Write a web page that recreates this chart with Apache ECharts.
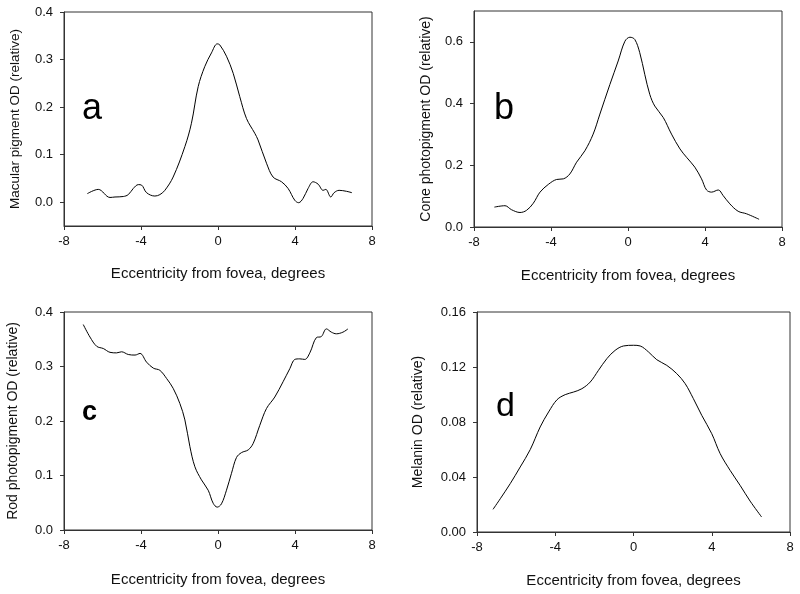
<!DOCTYPE html>
<html>
<head>
<meta charset="utf-8">
<script src="https://cdn.jsdelivr.net/npm/echarts@6/dist/echarts.min.js"></script>
<style>
html,body{margin:0;padding:0;background:#fff;}
#chart{width:800px;height:594px;}
</style>
</head>
<body>
<div id="chart"></div>
<script>
// Panel a: macular pigment OD
const ecc_a = [-6.79,-6.22,-5.61,-5.35,-4.92,-4.66,-4.4,-4.14,-3.97,-3.71,-3.28,-3.02,-2.76,-2.33,-1.72,-1.38,-1.03,-0.69,-0.34,-0.04,0.09,0.44,0.79,1.13,1.48,1.91,2.08,2.52,2.86,3.3,3.64,3.99,4.19,4.42,4.68,4.94,5.2,5.46,5.6,5.86,6.03,6.29,6.67,6.96];
const od_a  = [0.018,0.027,0.010,0.011,0.012,0.016,0.029,0.037,0.036,0.020,0.013,0.016,0.025,0.053,0.117,0.166,0.243,0.285,0.314,0.333,0.331,0.307,0.271,0.222,0.176,0.145,0.131,0.082,0.053,0.043,0.029,0.004,-0.001,0.008,0.029,0.043,0.038,0.025,0.027,0.011,0.020,0.025,0.023,0.020];
// Panel b: cone photopigment OD
const ecc_b = [-6.94,-6.39,-6.05,-5.61,-5.27,-4.92,-4.57,-4.14,-3.71,-3.36,-3.02,-2.67,-2.24,-1.81,-1.46,-0.94,-0.51,-0.16,0.1,0.35,0.61,0.87,1.13,1.39,1.83,2.26,2.7,3.04,3.47,3.82,4.08,4.34,4.69,4.94,5.29,5.72,6.15,6.81];
const od_b  = [0.0645,0.069,0.056,0.047,0.054,0.077,0.113,0.138,0.154,0.156,0.172,0.210,0.247,0.301,0.366,0.462,0.538,0.602,0.615,0.608,0.565,0.495,0.430,0.392,0.355,0.301,0.253,0.226,0.194,0.156,0.120,0.113,0.120,0.102,0.075,0.051,0.043,0.025];
// Panel c: rod photopigment OD
const ecc_c = [-7.0,-6.65,-6.3,-5.96,-5.61,-5.27,-5.01,-4.66,-4.31,-4.05,-3.71,-3.36,-3.02,-2.67,-2.33,-1.98,-1.72,-1.46,-1.2,-0.86,-0.51,-0.25,-0.04,0.18,0.44,0.7,0.96,1.22,1.57,1.83,2.17,2.52,2.95,3.38,3.73,3.99,4.25,4.51,4.77,5.11,5.37,5.63,5.89,6.15,6.49,6.75];
const od_c  = [0.377,0.354,0.337,0.333,0.326,0.325,0.327,0.322,0.321,0.324,0.308,0.297,0.293,0.278,0.260,0.232,0.202,0.153,0.116,0.092,0.073,0.049,0.042,0.048,0.073,0.104,0.133,0.142,0.147,0.159,0.192,0.223,0.244,0.272,0.296,0.313,0.314,0.313,0.325,0.353,0.355,0.369,0.363,0.360,0.363,0.369];
// Panel d: melanin OD
const ecc_d = [-7.18,-6.81,-6.3,-5.79,-5.28,-4.77,-4.34,-3.91,-3.49,-3.06,-2.64,-2.21,-1.79,-1.36,-0.94,-0.51,0,0.34,0.77,1.19,1.7,2.21,2.64,3.06,3.49,4.0,4.43,4.94,5.45,5.96,6.55];
const od_d  = [0.0165,0.0242,0.0352,0.0473,0.0599,0.0764,0.0873,0.0962,0.0999,0.1018,0.1042,0.1091,0.1176,0.1261,0.1321,0.1353,0.1358,0.1353,0.1309,0.1253,0.1212,0.1152,0.1079,0.097,0.0848,0.0715,0.057,0.0448,0.0339,0.0225,0.0109];

const xTicks = [-8,-4,0,4,8];
const yTicks_a = [0,0.1,0.2,0.3,0.4];
const yTicks_b = [0,0.2,0.4,0.6];
const yTicks_c = [0,0.1,0.2,0.3,0.4];
const yTicks_d = [0,0.04,0.08,0.12,0.16];

const xTitle = 'Eccentricity from fovea, degrees';
const yTitles = ['Macular pigment OD (relative)','Cone photopigment OD (relative)','Rod photopigment OD (relative)','Melanin OD (relative)'];
const panelLetters = ['a','b','c','d'];

const FONT = 'Arial, "Liberation Sans", sans-serif';
const frameColor = '#333';

function zip(xs, ys){ return xs.map((x,i)=>[x, ys[i]]); }

const grids = [
  {left:64, top:12, width:308, height:214},
  {left:474, top:11, width:308, height:216},
  {left:64, top:312, width:308, height:218},
  {left:477, top:312, width:313, height:220}
];
const yRanges = [[-0.05,0.4],[0,0.7],[0,0.4],[0,0.16]];
const yTickSets = [yTicks_a, yTicks_b, yTicks_c, yTicks_d];
const yDigits = [1,1,1,2];
const yNameGaps = [42,41,44,52];
const yNameSizes = [13.5,14,14,14];
const xNameGaps = [40,41,42,41];

const option = {
  backgroundColor:'#fff',
  animation:false,
  grid: grids.map(g=>Object.assign({show:true, borderColor:frameColor, borderWidth:1, backgroundColor:'transparent'}, g)),
  xAxis: grids.map((g,i)=>({
    type:'value', gridIndex:i, min:-8, max:8, interval:4,
    name:xTitle, nameLocation:'middle', nameGap:xNameGaps[i],
    nameTextStyle:{fontFamily:FONT, fontSize:15, color:'#111'},
    axisLine:{show:true, onZero:false, lineStyle:{color:frameColor, width:1}},
    axisTick:{show:true, inside:false, length:4, lineStyle:{color:frameColor}, customValues:xTicks},
    axisLabel:{fontFamily:FONT, fontSize:13, color:'#111', margin:9, customValues:xTicks},
    splitLine:{show:false}
  })),
  yAxis: grids.map((g,i)=>({
    type:'value', gridIndex:i, min:yRanges[i][0], max:yRanges[i][1],
    name:yTitles[i], nameLocation:'middle', nameGap:yNameGaps[i], nameRotate:90,
    nameTextStyle:{fontFamily:FONT, fontSize:yNameSizes[i], color:'#111'},
    axisLine:{show:true, onZero:false, lineStyle:{color:frameColor, width:1}},
    axisTick:{show:true, inside:false, length:4, lineStyle:{color:frameColor}, customValues:yTickSets[i]},
    axisLabel:{fontFamily:FONT, fontSize:13, color:'#111', margin:11, customValues:yTickSets[i],
      formatter:(v)=>Number(v).toFixed(yDigits[i])},
    splitLine:{show:false}
  })),
  series: [
    zip(ecc_a, od_a), zip(ecc_b, od_b), zip(ecc_c, od_c), zip(ecc_d, od_d)
  ].map((d,i)=>({
    type:'line', xAxisIndex:i, yAxisIndex:i, data:d, smooth:0.35, showSymbol:false,
    lineStyle:{color:'#000', width:1}, silent:true
  })),
  graphic: [
    {type:'text', x:82, y:127, style:{text:panelLetters[0], font:'36px '+FONT, fill:'#000', verticalAlign:'bottom'}},
    {type:'text', x:494, y:127, style:{text:panelLetters[1], font:'36px '+FONT, fill:'#000', verticalAlign:'bottom'}},
    {type:'text', x:82, y:426, style:{text:panelLetters[2], font:'bold 27px '+FONT, fill:'#000', verticalAlign:'bottom'}},
    {type:'text', x:496, y:424, style:{text:panelLetters[3], font:'34px '+FONT, fill:'#000', verticalAlign:'bottom'}}
  ]
};

const chart = echarts.init(document.getElementById('chart'), null, {renderer:'canvas'});
chart.setOption(option);
</script>
</body>
</html>
